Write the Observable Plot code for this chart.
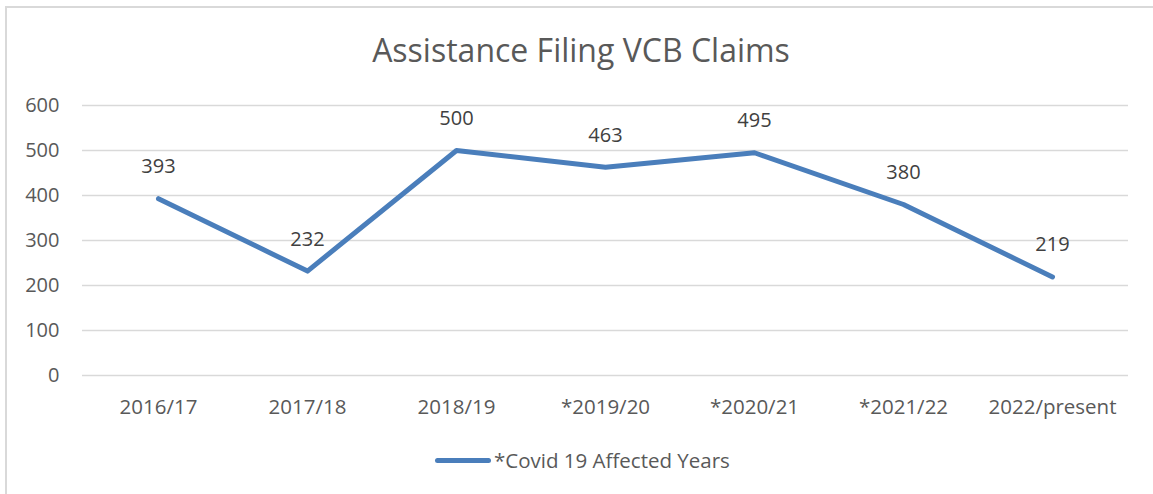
<!DOCTYPE html>
<html>
<head>
<meta charset="utf-8">
<script src="https://cdn.jsdelivr.net/npm/d3@7"></script>
<script src="https://cdn.jsdelivr.net/npm/@observablehq/plot@0.6"></script>
<style>
  html, body { margin: 0; padding: 0; background: #fff; }
  body { width: 1153px; height: 494px; overflow: hidden; position: relative; font-family: "Open Sans", sans-serif; }
  #frame { position: absolute; left: 5px; top: 6px; width: 1170px; height: 520px; border: 2px solid #d9d9d9; box-sizing: border-box; }
  #title { position: absolute; left: 0; top: 30px; width: 1162px; text-align: center; font-size: 32px; color: #595959; line-height: 40px; }
  #chart { position: absolute; left: 0; top: 80px; }
  #legend { position: absolute; top: 447px; left: 435px; display: flex; align-items: center; font-size: 20.5px; color: #595959; line-height: 26px; }
  #legend .sw { width: 56px; height: 5px; border-radius: 3px; background: #4a7ebb; margin-right: 3px; }
</style>
</head>
<body>
<div id="frame"></div>
<div id="title">Assistance Filing VCB Claims</div>
<div id="chart"></div>
<div id="legend"><span class="sw"></span><span>*Covid 19 Affected Years</span></div>
<script>
const categories = ["2016/17", "2017/18", "2018/19", "*2019/20", "*2020/21", "*2021/22", "2022/present"];
const claims = [393, 232, 500, 463, 495, 380, 219];
const yTicks = [0, 100, 200, 300, 400, 500, 600];

const data = categories.map((c, i) => ({category: c, value: claims[i]}));

const chart = Plot.plot({
  width: 1153,
  height: 355,
  marginLeft: 82,
  marginRight: 25,
  marginTop: 25,
  marginBottom: 60,
  style: {fontFamily: "Open Sans, sans-serif", fontSize: "20px", background: "transparent"},
  x: {type: "point", domain: categories, padding: 0.5},
  y: {domain: [0, 600]},
  marks: [
    Plot.ruleY(yTicks, {stroke: "#d9d9d9", strokeWidth: 1.5, strokeOpacity: 1}),
    Plot.axisY({ticks: yTicks, tickSize: 0, tickPadding: 23, label: null, fill: "#595959", fontSize: 20}),
    Plot.axisX({tickSize: 0, tickPadding: 24, label: null, fill: "#595959", fontSize: 20.5}),
    Plot.line(data, {x: "category", y: "value", stroke: "#4a7ebb", strokeWidth: 5, strokeLinejoin: "round", strokeLinecap: "round"}),
    Plot.text(data, {x: "category", y: "value", text: d => String(d.value), dy: -32, fill: "#404040", fontSize: 20})
  ]
});
document.getElementById("chart").appendChild(chart);
</script>
</body>
</html>
